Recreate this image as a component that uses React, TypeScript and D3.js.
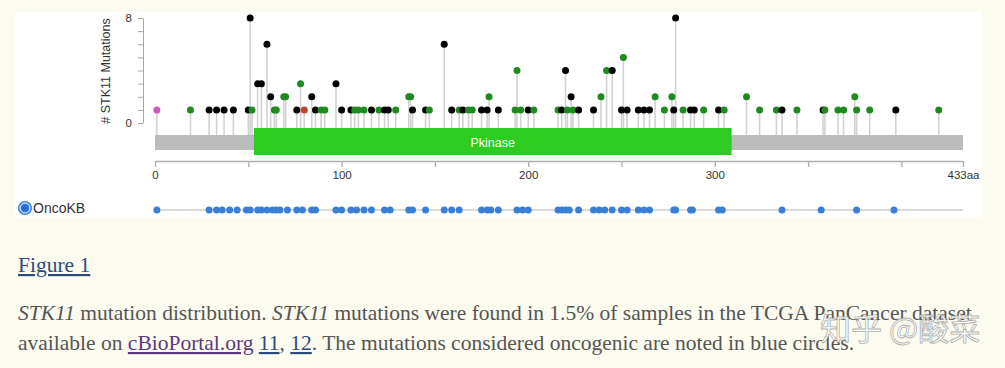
import React, { useEffect, useRef } from 'react'
import * as d3 from 'd3'

// lollipop data: amino-acid position, sample count, mutation type
const mutPositions = [
  1, 19, 29, 33, 37, 42, 50, 51, 52, 55, 57, 60, 62, 64, 65, 69, 70, 76, 78, 80,
  84, 86, 89, 91, 97, 100, 105, 107, 109, 112, 116, 120, 123, 125, 129, 136, 137,
  138, 145, 147, 155, 159, 163, 165, 168, 170, 175, 178, 179, 184, 193, 194, 196,
  200, 203, 216, 218, 220, 221, 223, 224, 227, 235, 239, 242, 245, 250, 251, 253,
  259, 262, 265, 268, 273, 277, 278, 279, 283, 287, 289, 294, 302, 305, 317, 324,
  333, 336, 344, 358, 359, 366, 369, 375, 376, 383, 397, 420
]
const mutCounts = [
  1, 1, 1, 1, 1, 1, 1, 8, 1, 3, 3, 6, 2, 1, 1, 2, 2, 1, 3, 1,
  2, 1, 1, 1, 3, 1, 1, 1, 1, 1, 1, 1, 1, 1, 1, 2, 2,
  1, 1, 1, 6, 1, 1, 1, 1, 1, 1, 1, 2, 1, 1, 4, 1,
  1, 1, 1, 1, 4, 1, 2, 1, 1, 1, 2, 4, 4, 1, 5, 1,
  1, 1, 1, 2, 1, 2, 1, 8, 1, 1, 1, 1, 1, 1, 2, 1,
  1, 1, 1, 1, 1, 1, 1, 2, 1, 1, 1, 1
]
// T = truncating, M = missense, I = inframe, O = other
const mutTypes = [
  'O', 'M', 'T', 'T', 'T', 'T', 'T', 'T', 'M', 'T', 'T', 'T', 'T', 'M', 'M', 'M', 'M', 'T', 'M', 'I',
  'T', 'T', 'M', 'M', 'T', 'T', 'T', 'M', 'M', 'M', 'T', 'M', 'T', 'T', 'M', 'M', 'M',
  'T', 'T', 'M', 'T', 'T', 'M', 'T', 'M', 'M', 'T', 'T', 'M', 'T', 'M', 'M', 'M',
  'T', 'M', 'M', 'T', 'T', 'M', 'T', 'M', 'T', 'T', 'M', 'M', 'T', 'T', 'M', 'T',
  'T', 'T', 'T', 'M', 'M', 'M', 'T', 'T', 'M', 'T', 'T', 'M', 'T', 'M', 'M', 'M',
  'M', 'T', 'M', 'T', 'M', 'M', 'M', 'M', 'M', 'M', 'T', 'M'
]

const oncoKbPositions = [
  1, 29, 33, 36, 40, 44, 49, 51, 55, 57, 60, 63, 65, 67, 71, 76, 79, 84, 86, 97,
  100, 105, 108, 112, 116, 123, 126, 136, 138, 145, 155, 159, 163, 175, 178, 180,
  184, 194, 197, 200, 216, 218, 220, 222, 227, 235, 238, 241, 245, 250, 253, 259,
  262, 265, 278, 279, 287, 288, 302, 304, 336, 357, 376, 396
]

const domainNames = ['Pkinase']
const domainStarts = [53]
const domainEnds = [309]

const proteinLength = 433
const xTickValues = [0, 50, 100, 150, 200, 250, 300, 350, 400, 433]
const xTickLabels = ['0', '', '100', '', '200', '', '300', '', '', '433aa']
const yTickValues = [0, 1, 2, 3, 4, 5, 6, 7, 8]

const typeColors = { T: '#000000', M: '#1f8a1f', I: '#b8452c', O: '#cf58bc' }

const App = () => {
  const ref = useRef(null)

  useEffect(() => {
    const svg = d3.select(ref.current)
    svg.selectAll('*').remove()

    const x = d3.scaleLinear().domain([0, proteinLength]).range([155, 963])
    const y = d3.scaleLinear().domain([0, 8]).range([123, 18])
    const barTop = 135
    const sans = 'Liberation Sans, Arial, sans-serif'

    svg.append('rect').attr('width', 1005).attr('height', 368).attr('fill', '#fcfbef')
    svg.append('rect')
      .attr('x', 15).attr('y', 12).attr('width', 967).attr('height', 205)
      .attr('fill', '#ffffff')

    // y axis
    const yAxis = svg.append('g')
      .attr('transform', 'translate(143,0)')
      .call(d3.axisLeft(y).tickValues(yTickValues).tickSize(5).tickSizeOuter(0).tickPadding(6)
        .tickFormat(d => (d === 0 || d === 8 ? String(d) : '')))
    yAxis.selectAll('path, line').attr('stroke', '#a8a8a8')
    yAxis.selectAll('text').attr('fill', '#333').style('font-size', '11.5px').style('font-family', sans)

    svg.append('text')
      .attr('transform', 'translate(110,71) rotate(-90)')
      .attr('text-anchor', 'middle')
      .style('font-family', sans)
      .style('font-size', '12.5px')
      .attr('fill', '#333')
      .text('# STK11 Mutations')

    const data = mutPositions.map((p, i) => ({ pos: p, count: mutCounts[i], type: mutTypes[i] }))

    // stems
    svg.append('g').selectAll('line').data(data).enter().append('line')
      .attr('x1', d => x(d.pos)).attr('x2', d => x(d.pos))
      .attr('y1', d => y(d.count)).attr('y2', barTop)
      .attr('stroke', '#d2d2d2').attr('stroke-width', 1.6)

    // protein bar and domain
    svg.append('rect')
      .attr('x', x(0)).attr('y', barTop).attr('width', x(proteinLength) - x(0)).attr('height', 15)
      .attr('fill', '#bcbcbc')

    const dom = svg.append('g').selectAll('g').data(domainNames).enter().append('g')
    dom.append('rect')
      .attr('x', (d, i) => x(domainStarts[i])).attr('y', 128)
      .attr('width', (d, i) => x(domainEnds[i]) - x(domainStarts[i])).attr('height', 27)
      .attr('fill', '#2ecb20')
    dom.append('text')
      .attr('x', (d, i) => (x(domainStarts[i]) + x(domainEnds[i])) / 2).attr('y', 146.5)
      .attr('text-anchor', 'middle').attr('fill', '#ffffff')
      .style('font-family', sans).style('font-size', '12.5px')
      .text(d => d)

    // heads
    svg.append('g').selectAll('circle').data(data).enter().append('circle')
      .attr('cx', d => x(d.pos)).attr('cy', d => y(d.count)).attr('r', 3.5)
      .attr('fill', d => typeColors[d.type])

    // x axis
    const xAxis = svg.append('g')
      .attr('transform', 'translate(0,161)')
      .call(d3.axisBottom(x).tickValues(xTickValues).tickSize(6).tickSizeOuter(0).tickPadding(4)
        .tickFormat((d, i) => xTickLabels[i]))
    xAxis.selectAll('path, line').attr('stroke', '#b0b0b0').attr('stroke-width', 1.4)
    xAxis.selectAll('text').attr('fill', '#333').style('font-size', '11.5px').style('font-family', sans)

    // OncoKB track
    const icon = svg.append('g').attr('transform', 'translate(25,208)')
    icon.append('circle').attr('r', 7).attr('fill', '#2f7fe0')
    icon.append('circle').attr('r', 5).attr('fill', 'none').attr('stroke', '#ffffff').attr('stroke-width', 1)
    icon.append('circle').attr('r', 3).attr('fill', '#1d6fd6')
    svg.append('text')
      .attr('x', 33).attr('y', 213)
      .style('font-family', sans).style('font-size', '14px')
      .attr('fill', '#333').text('OncoKB')

    svg.append('line')
      .attr('x1', x(0)).attr('x2', x(proteinLength)).attr('y1', 210).attr('y2', 210)
      .attr('stroke', '#cccccc').attr('stroke-width', 1.5)
    svg.append('g').selectAll('circle').data(oncoKbPositions).enter().append('circle')
      .attr('cx', d => x(d)).attr('cy', 210).attr('r', 3.5).attr('fill', '#3a7fd6')

    // caption
    const serif = 'Liberation Serif, Times New Roman, serif'
    svg.append('text')
      .attr('x', 18).attr('y', 272)
      .style('font-family', serif).style('font-size', '21.5px')
      .style('text-decoration', 'underline')
      .attr('fill', '#2c4a7c').text('Figure 1')

    const line1 = svg.append('text').attr('x', 18).attr('y', 320)
      .style('font-family', serif).style('font-size', '21.5px').attr('fill', '#555')
    line1.append('tspan').style('font-style', 'italic').text('STK11')
    line1.append('tspan').text(' mutation distribution. ')
    line1.append('tspan').style('font-style', 'italic').text('STK11')
    line1.append('tspan').text(' mutations were found in 1.5% of samples in the TCGA PanCancer dataset')

    const line2 = svg.append('text').attr('x', 18).attr('y', 350)
      .style('font-family', serif).style('font-size', '21.5px').attr('fill', '#555')
    line2.append('tspan').text('available on ')
    line2.append('tspan').attr('fill', '#5b3a7e').style('text-decoration', 'underline').text('cBioPortal.org')
    line2.append('tspan').text(' ')
    line2.append('tspan').attr('fill', '#2c4a7c').style('text-decoration', 'underline').text('11')
    line2.append('tspan').text(', ')
    line2.append('tspan').attr('fill', '#2c4a7c').style('text-decoration', 'underline').text('12')
    line2.append('tspan').text('. The mutations considered oncogenic are noted in blue circles.')

    // watermark
    svg.append('text')
      .attr('x', 820).attr('y', 340)
      .style('font-family', 'Noto Sans CJK SC, sans-serif').style('font-size', '31px')
      .attr('fill', '#ffffff').attr('fill-opacity', 0.85)
      .attr('stroke', '#8a8a8a').attr('stroke-width', 0.8).attr('stroke-opacity', 0.7)
      .text('知乎 @酸菜')
  }, [])

  return (
    <svg ref={ref} width={1005} height={368}
      style={{ position: 'absolute', left: 0, top: 0, display: 'block' }} />
  )
}

export default App
